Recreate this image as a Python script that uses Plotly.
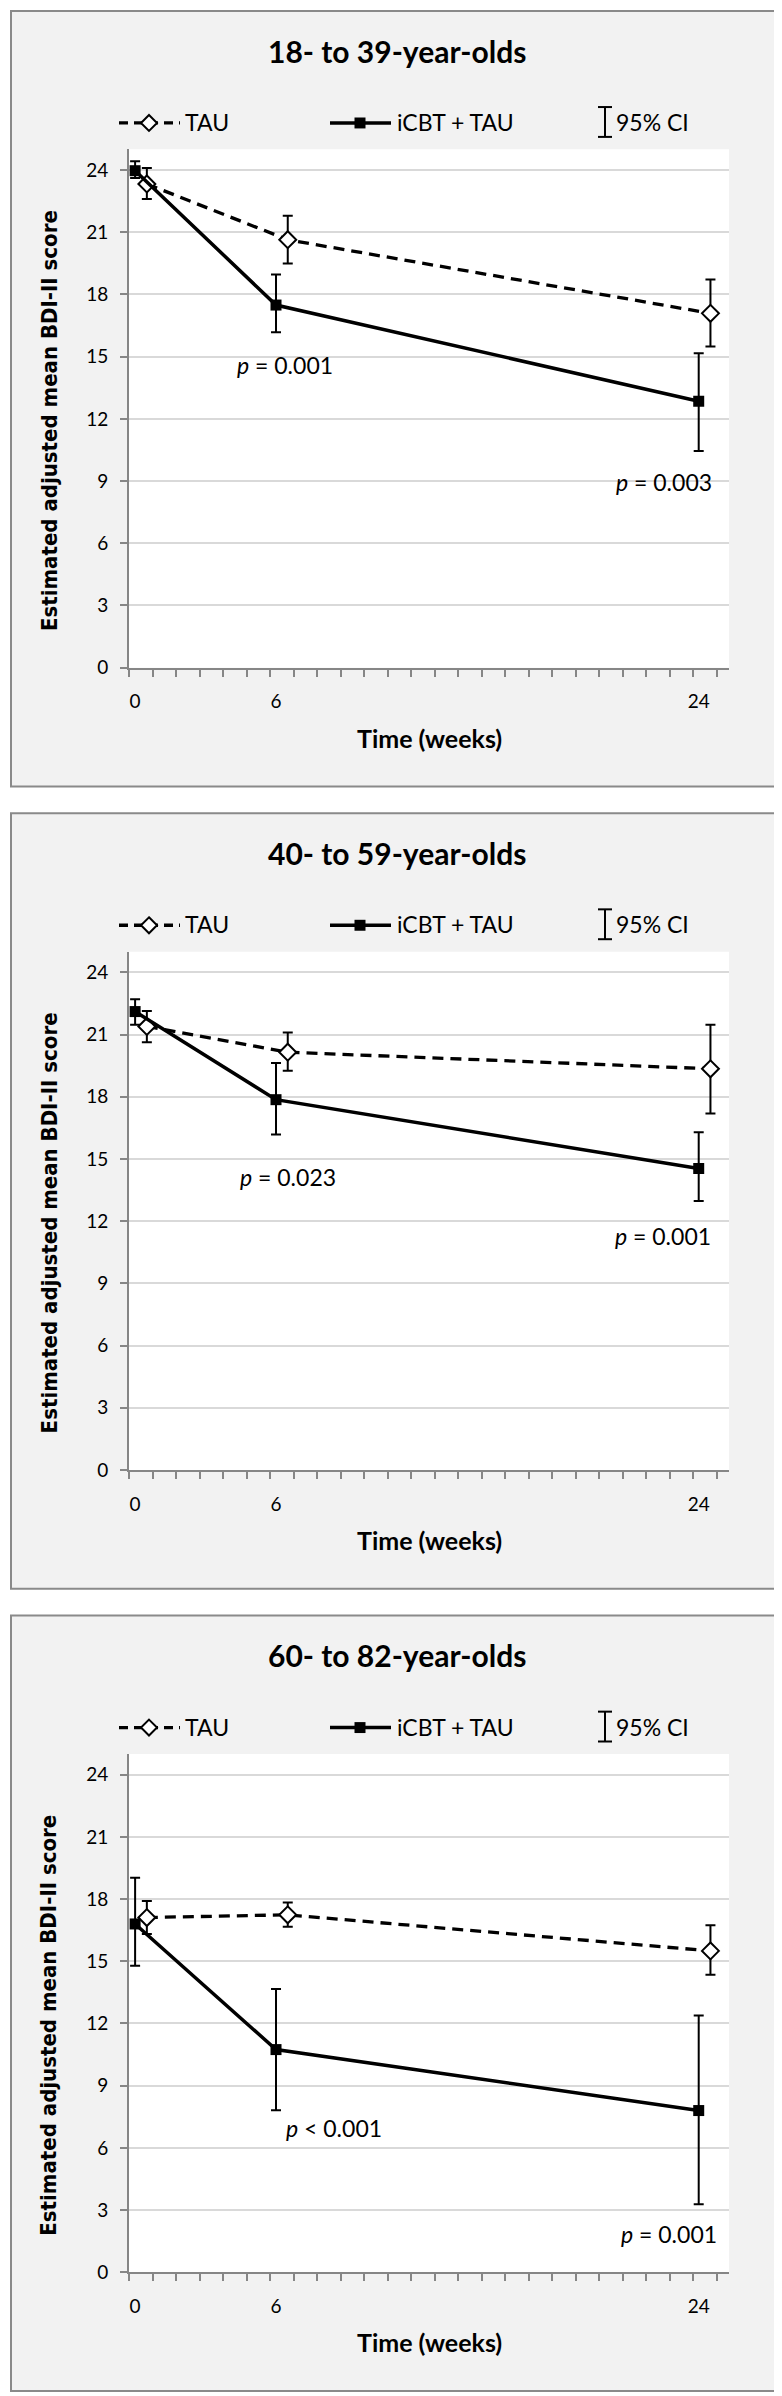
import plotly.graph_objects as go

# ---- data ----
weeks = [0, 6, 24]
groups = ["18- to 39-year-olds", "40- to 59-year-olds", "60- to 82-year-olds"]

tau_mean = [[23.33, 20.64, 17.09], [21.39, 20.15, 19.35], [17.11, 17.24, 15.50]]
tau_lo = [[22.60, 19.50, 15.49], [20.63, 19.25, 17.19], [16.31, 16.66, 14.35]]
tau_hi = [[24.10, 21.80, 18.72], [22.14, 21.10, 21.47], [17.91, 17.83, 16.74]]

icbt_mean = [[23.97, 17.49, 12.85], [22.11, 17.86, 14.54], [16.80, 10.74, 7.80]]
icbt_lo = [[23.62, 16.18, 10.45], [21.47, 16.18, 12.97], [14.78, 7.81, 3.28]]
icbt_hi = [[24.42, 18.96, 15.17], [22.70, 19.63, 16.29], [19.03, 13.66, 12.38]]

p_week6 = ["p = 0.001", "p = 0.023", "p < 0.001"]
p_week24 = ["p = 0.003", "p = 0.001", "p = 0.001"]

y_ticks = [0, 3, 6, 9, 12, 15, 18, 21, 24]
x_ticks = [0, 6, 24]

# ---- layout helpers (pixel -> paper) ----
W, H = 782, 2396
DY = 806


def px(x):
    return x / W


def py(y):
    return 1 - y / H


FONT = "Lato, Carlito, Calibri, 'Open Sans', sans-serif"
AX_GRAY = "#868686"

# where the p labels sit (week, score) per panel
p6_pos = [(4.25, 14.6), (4.38, 14.14), (6.34, 6.98)]
p24_pos = [(24.65, 8.95), (24.61, 11.29), (24.87, 1.86)]

fig = go.Figure()
shapes = []
annotations = []
layout_axes = {}

for k in range(3):
    off = DY * k
    sfx = "" if k == 0 else str(k + 1)
    xa, ya = "x" + sfx, "y" + sfx

    # panel background and plot area
    shapes.append(dict(type="rect", xref="paper", yref="paper", layer="below",
                       x0=px(3), x1=px(780), y0=py(782 + off), y1=py(3 + off),
                       fillcolor="#f2f2f2", line=dict(color="#8a8a8a", width=2)))
    shapes.append(dict(type="rect", xref=xa + " domain", yref=ya + " domain", layer="below",
                       x0=0, x1=1, y0=0, y1=1, fillcolor="white", line=dict(width=0)))

    tau_x = [w + 0.5 for w in weeks]
    fig.add_trace(go.Scatter(
        x=tau_x, y=tau_mean[k], xaxis=xa, yaxis=ya, mode="lines+markers",
        line=dict(color="black", width=3.3, dash="11px,7px"),
        marker=dict(symbol="diamond", size=13, color="white", line=dict(color="black", width=2)),
        error_y=dict(type="data", symmetric=False,
                     array=[h - m for h, m in zip(tau_hi[k], tau_mean[k])],
                     arrayminus=[m - l for m, l in zip(tau_mean[k], tau_lo[k])],
                     color="black", thickness=2, width=5),
        showlegend=False, cliponaxis=False))
    fig.add_trace(go.Scatter(
        x=weeks, y=icbt_mean[k], xaxis=xa, yaxis=ya, mode="lines+markers",
        line=dict(color="black", width=3.5),
        marker=dict(symbol="square", size=11, color="black"),
        error_y=dict(type="data", symmetric=False,
                     array=[h - m for h, m in zip(icbt_hi[k], icbt_mean[k])],
                     arrayminus=[m - l for m, l in zip(icbt_mean[k], icbt_lo[k])],
                     color="black", thickness=2, width=5),
        showlegend=False, cliponaxis=False))

    layout_axes["xaxis" + sfx] = dict(
        domain=[px(121), px(721)], anchor=ya, range=[-0.26, 25.29],
        tickmode="array", tickvals=x_ticks, ticks="", showgrid=False, zeroline=False,
        showline=True, linecolor=AX_GRAY, linewidth=2, ticklabelstandoff=16,
        tickfont=dict(family=FONT, size=19, color="black"),
        minor=dict(tickmode="linear", tick0=-0.24, dtick=1, ticks="outside",
                   ticklen=7, tickwidth=1.5, tickcolor=AX_GRAY, showgrid=False))
    layout_axes["yaxis" + sfx] = dict(
        domain=[py(662.7 + off), py(142 + off)], anchor=xa, range=[0, 25],
        tickmode="array", tickvals=y_ticks, ticks="outside", ticklen=7, tickwidth=1.5,
        tickcolor=AX_GRAY, showgrid=True, gridcolor="#d9d9d9", gridwidth=1.5,
        zeroline=False, showline=True, linecolor=AX_GRAY, linewidth=2,
        ticklabelstandoff=8, tickfont=dict(family=FONT, size=19, color="black"))

    # titles
    annotations.append(dict(xref="paper", yref="paper", x=px(389), y=py(43 + off),
                            text="<b>" + groups[k] + "</b>", showarrow=False,
                            font=dict(family=FONT, size=30, color="black"),
                            xanchor="center", yanchor="middle"))
    annotations.append(dict(xref="paper", yref="paper", x=px(41), y=py(415 + off),
                            text="<b>Estimated adjusted mean BDI-II score</b>", textangle=-90,
                            showarrow=False,
                            font=dict(family="'DejaVu Sans Condensed', 'DejaVu Sans'", size=22,
                                      color="black"),
                            xanchor="center", yanchor="middle"))
    annotations.append(dict(xref="paper", yref="paper", x=px(421), y=py(733 + off),
                            text="<b>Time (weeks)</b>", showarrow=False,
                            font=dict(family=FONT, size=25, color="black"),
                            xanchor="center", yanchor="middle"))

    # p values
    for txt, (xx, yy), anc in [(p_week6[k], p6_pos[k], "left"), (p_week24[k], p24_pos[k], "right")]:
        annotations.append(dict(xref=xa, yref=ya, x=xx, y=yy, showarrow=False,
                                text="<i>p</i>" + txt[1:], xanchor=anc, yanchor="middle",
                                font=dict(family=FONT, size=23, color="black")))

    # legend row
    ly = 115.5 + off
    shapes.append(dict(type="line", xref="paper", yref="paper", x0=px(111), x1=px(172),
                       y0=py(ly), y1=py(ly), line=dict(color="black", width=3.3, dash="9px,6px")))
    shapes.append(dict(type="path", xref="paper", yref="paper",
                       path="M {} {} L {} {} L {} {} L {} {} Z".format(
                           px(141), py(ly - 8), px(149), py(ly), px(141), py(ly + 8), px(133), py(ly)),
                       fillcolor="white", line=dict(color="black", width=2)))
    shapes.append(dict(type="line", xref="paper", yref="paper", x0=px(322), x1=px(383),
                       y0=py(ly), y1=py(ly), line=dict(color="black", width=3.5)))
    shapes.append(dict(type="rect", xref="paper", yref="paper", x0=px(346.5), x1=px(357.5),
                       y0=py(ly + 5.5), y1=py(ly - 5.5), fillcolor="black", line=dict(width=0)))
    for x0, y0, x1, y1 in [(597, ly - 16, 597, ly + 14), (590, ly - 16, 604, ly - 16),
                           (590, ly + 14, 604, ly + 14)]:
        shapes.append(dict(type="line", xref="paper", yref="paper", x0=px(x0), x1=px(x1),
                           y0=py(y0), y1=py(y1), line=dict(color="black", width=2)))
    for x0, txt in [(175, "TAU"), (387, "iCBT + TAU"), (606, "95% CI")]:
        annotations.append(dict(xref="paper", yref="paper", x=px(x0), y=py(ly - 1), text=txt,
                                showarrow=False, xanchor="left", yanchor="middle",
                                font=dict(family=FONT, size=23, color="black")))

fig.update_layout(width=W, height=H, margin=dict(l=0, r=0, t=0, b=0),
                  paper_bgcolor="white", plot_bgcolor="white",
                  shapes=shapes, annotations=annotations, **layout_axes)

fig.write_html("out.html")
